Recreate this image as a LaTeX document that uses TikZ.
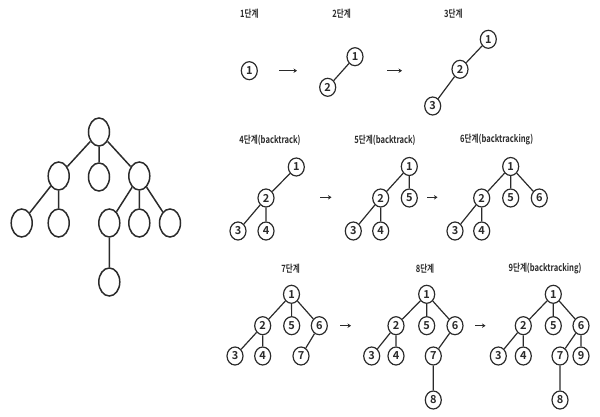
\documentclass[tikz,border=0pt]{standalone}
\usepackage{fontspec}
\setmainfont{Noto Sans CJK KR}[BoldFont={Noto Sans CJK KR Bold}]
\newfontfamily\lblfont{Noto Sans CJK KR Bold}
\usetikzlibrary{shapes.geometric,arrows.meta}
\definecolor{ink}{HTML}{2B2B2B}
\tikzset{
  bignode/.style={draw=ink,ellipse,line width=1.5pt,minimum width=21pt,minimum height=28pt,inner sep=0pt},
  nd/.style={draw=ink,ellipse,line width=1.2pt,minimum width=16pt,minimum height=18pt,inner sep=0pt,font=\fontsize{11}{11}\selectfont\bfseries,text=ink},
  lbl/.style={font=\lblfont\fontsize{10}{10}\selectfont,text=ink,inner sep=0pt},
  ln/.style={draw=ink,line width=1.2pt},
  bigln/.style={draw=ink,line width=1.5pt},
  arr/.style={draw=ink,line width=1.2pt,-{Stealth[length=3.5pt,width=4.5pt]}}
}
\newcommand{\cond}[1]{\scalebox{0.76}[1]{#1}}
\begin{document}
\begin{tikzpicture}[x=1pt,y=-1pt]
\useasboundingbox (0,0) rectangle (600,417);
% left tree
\node[bignode] (R) at (99,132) {};
\node[bignode] (A) at (58.7,176) {};
\node[bignode] (B) at (99,177) {};
\node[bignode] (C) at (139.3,176) {};
\node[bignode] (A1) at (21.7,223) {};
\node[bignode] (A2) at (58.7,223) {};
\node[bignode] (C1) at (109.3,223) {};
\node[bignode] (C2) at (139.3,223) {};
\node[bignode] (C3) at (170,223) {};
\node[bignode] (C4) at (109.3,282) {};
\path[bigln] (R)--(A) (R)--(B) (R)--(C) (A)--(A1) (A)--(A2) (C)--(C1) (C)--(C2) (C)--(C3) (C1)--(C4);

% stage 1
\node[lbl] (L1) at (249.3,14) {\cond{1단계}};
\node[nd] (a1) at (249.3,70.7) {1};
\coordinate (r1s) at (279,70.7); \coordinate (r1e) at (297,70.7);
\draw[arr] (r1s)--(r1e);
% stage 2
\node[lbl] (L2) at (341.7,14) {\cond{2단계}};
\node[nd] (b1) at (355,56.7) {1};
\node[nd] (b2) at (327.7,87.3) {2};
\path[ln] (b1)--(b2);
\coordinate (r2s) at (387,70.7); \coordinate (r2e) at (402,70.7);
\draw[arr] (r2s)--(r2e);
% stage 3
\node[lbl] (L3) at (453.3,14) {\cond{3단계}};
\node[nd] (c1) at (488.3,39.3) {1};
\node[nd] (c2) at (460,69.3) {2};
\node[nd] (c3) at (432.7,106) {3};
\path[ln] (c1)--(c2) (c2)--(c3);

% stage 4
\node[lbl] (L4) at (270,140) {\cond{4단계(backtrack)}};
\node[nd] (d1) at (296.3,167) {1};
\node[nd] (d2) at (266,198) {2};
\node[nd] (d3) at (238,231) {3};
\node[nd] (d4) at (266,231) {4};
\path[ln] (d1)--(d2) (d2)--(d3) (d2)--(d4);
\coordinate (r3s) at (320,197.3); \coordinate (r3e) at (331.5,197.3);
\draw[arr] (r3s)--(r3e);
% stage 5
\node[lbl] (L5) at (385,140) {\cond{5단계(backtrack)}};
\node[nd] (e1) at (409.3,166.5) {1};
\node[nd] (e2) at (380.7,198) {2};
\node[nd] (e5) at (409.3,198) {5};
\node[nd] (e3) at (353.3,231) {3};
\node[nd] (e4) at (380.7,231) {4};
\path[ln] (e1)--(e2) (e1)--(e5) (e2)--(e3) (e2)--(e4);
\coordinate (r4s) at (427,197.3); \coordinate (r4e) at (437.5,197.3);
\draw[arr] (r4s)--(r4e);
% stage 6
\node[lbl] (L6) at (496.7,140) {\cond{6단계(backtracking)}};
\node[nd] (f1) at (510.7,166.5) {1};
\node[nd] (f2) at (481.7,198) {2};
\node[nd] (f5) at (510.7,198) {5};
\node[nd] (f6) at (539.3,198) {6};
\node[nd] (f3) at (455,231) {3};
\node[nd] (f4) at (481.7,231) {4};
\path[ln] (f1)--(f2) (f1)--(f5) (f1)--(f6) (f2)--(f3) (f2)--(f4);

% stage 7
\node[lbl] (L7) at (290.7,269) {\cond{7단계}};
\node[nd] (g1) at (291.5,294.3) {1};
\node[nd] (g2) at (262.7,325.7) {2};
\node[nd] (g5) at (291.7,325.7) {5};
\node[nd] (g6) at (319.3,325.7) {6};
\node[nd] (g3) at (235,356) {3};
\node[nd] (g4) at (262.7,356) {4};
\node[nd] (g7) at (301,356) {7};
\path[ln] (g1)--(g2) (g1)--(g5) (g1)--(g6) (g2)--(g3) (g2)--(g4) (g6)--(g7);
\coordinate (r5s) at (340,325.7); \coordinate (r5e) at (351,325.7);
\draw[arr] (r5s)--(r5e);
% stage 8
\node[lbl] (L8) at (425,269) {\cond{8단계}};
\node[nd] (h1) at (426.7,294.3) {1};
\node[nd] (h2) at (396,325.7) {2};
\node[nd] (h5) at (426.7,325.7) {5};
\node[nd] (h6) at (455,325.7) {6};
\node[nd] (h3) at (371.7,356) {3};
\node[nd] (h4) at (396,356) {4};
\node[nd] (h7) at (433.3,356) {7};
\node[nd] (h8) at (433.3,400) {8};
\path[ln] (h1)--(h2) (h1)--(h5) (h1)--(h6) (h2)--(h3) (h2)--(h4) (h6)--(h7) (h7)--(h8);
\coordinate (r6s) at (475,325.7); \coordinate (r6e) at (485.5,325.7);
\draw[arr] (r6s)--(r6e);
% stage 9
\node[lbl] (L9) at (545,269) {\cond{9단계(backtracking)}};
\node[nd] (i1) at (553.3,294.3) {1};
\node[nd] (i2) at (523.3,325.7) {2};
\node[nd] (i5) at (553.3,325.7) {5};
\node[nd] (i6) at (581,325.7) {6};
\node[nd] (i3) at (498.3,356) {3};
\node[nd] (i4) at (523.3,356) {4};
\node[nd] (i7) at (560,356) {7};
\node[nd] (i9) at (581,356) {9};
\node[nd] (i8) at (560,400) {8};
\path[ln] (i1)--(i2) (i1)--(i5) (i1)--(i6) (i2)--(i3) (i2)--(i4) (i6)--(i7) (i6)--(i9) (i7)--(i8);
\end{tikzpicture}
\end{document}
